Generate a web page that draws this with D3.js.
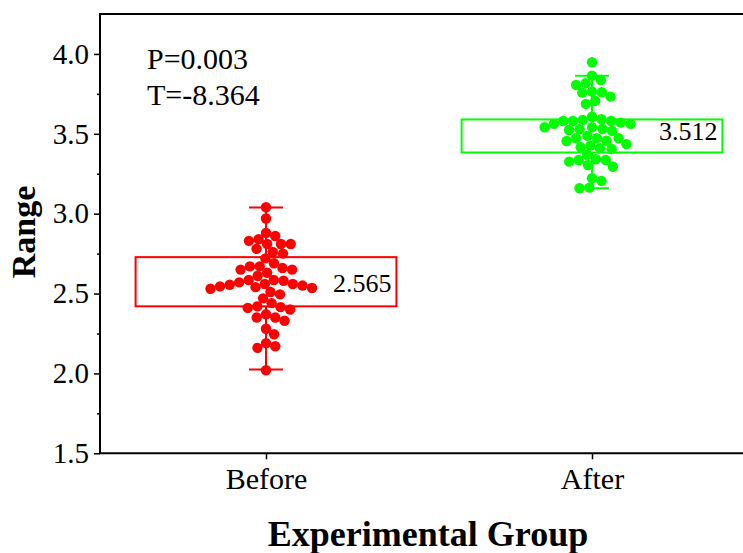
<!DOCTYPE html>
<html lang="en">
<head>
    <meta charset="UTF-8">
    <script src="https://d3js.org/d3.v7.min.js"></script>
    <style>
        body {margin: 0; background-color: #ffffff}
        svg {display: block;}
        text {font-family: "Liberation Serif", "Times New Roman", serif; fill: #000;}
    </style>
</head>
<body>
<svg class="chart"></svg>
<script type="text/javascript">
    // groups and their values
    let groups = ['Before', 'After'];
    let colors = ['#ff0000', '#00ff00'];

    let before_values = [3.04, 2.97, 2.88, 2.86, 2.84, 2.83, 2.81, 2.81, 2.81, 2.78,
        2.76, 2.75, 2.72, 2.69, 2.67, 2.67, 2.66, 2.65, 2.65, 2.63,
        2.61, 2.585, 2.585, 2.58, 2.57, 2.56, 2.56, 2.555, 2.55, 2.545,
        2.54, 2.535, 2.53, 2.51, 2.495, 2.47, 2.44, 2.42, 2.415, 2.41,
        2.40, 2.37, 2.35, 2.35, 2.33, 2.28, 2.245, 2.19, 2.17, 2.16, 2.02];

    let after_values = [3.948, 3.864, 3.837, 3.817, 3.806, 3.764, 3.760, 3.758, 3.733, 3.706,
        3.687, 3.607, 3.591, 3.587, 3.580, 3.580, 3.580, 3.570, 3.562, 3.562,
        3.541, 3.541, 3.530, 3.529, 3.524, 3.518, 3.487, 3.472, 3.472, 3.472,
        3.457, 3.455, 3.435, 3.426, 3.416, 3.410, 3.405, 3.368, 3.341, 3.336,
        3.336, 3.326, 3.305, 3.294, 3.222, 3.205, 3.163, 3.159];

    let means = [2.565, 3.512];
    let box_low = [2.420, 3.383];
    let box_high = [2.728, 3.590];
    let whisker_low = [2.025, 3.159];
    let whisker_high = [3.038, 3.864];

    let y_ticks = [1.5, 2.0, 2.5, 3.0, 3.5, 4.0];
    let y_minor = [1.75, 2.25, 2.75, 3.25, 3.75];
    let stats = ['P=0.003', 'T=-8.364'];

    let chart_width = 743, chart_height = 553;
    let plot_left = 100, plot_top = 14, plot_bottom = 453.3, plot_right = 760;
    let dot_r = 5.2;

    let svg = d3.select('.chart')
        .attr('width', chart_width)
        .attr('height', chart_height);

    let y = d3.scaleLinear()
        .domain([1.5, 4.25])
        .range([plot_bottom, plot_top]);

    let x = d3.scalePoint()
        .domain(groups)
        .range([266, 592]);

    let step = x(groups[1]) - x(groups[0]);
    let box_w = step * 0.8;
    let cap_w = 34;

    // simple greedy beeswarm: keep each dot as close to the centre as possible
    function swarm(values) {
        let d = 9.8;
        let placed = [];
        values.slice().sort((a, b) => b - a).forEach(v => {
            let py = y(v);
            let cands = [0];
            placed.forEach(p => {
                let dy = Math.abs(p.y - py);
                if (dy < d) {
                    let dx = Math.sqrt(d * d - dy * dy);
                    cands.push(p.dx + dx, p.dx - dx);
                }
            });
            cands.sort((a, b) => Math.abs(a) - Math.abs(b) || b - a);
            let best = cands.find(c => placed.every(p => {
                let ddx = p.dx - c, ddy = p.y - py;
                return ddx * ddx + ddy * ddy >= d * d - 0.01;
            }));
            placed.push({v: v, y: py, dx: best});
        });
        return placed;
    }

    // boxes, whiskers, mean labels
    groups.forEach((g, i) => {
        let cx = x(g);
        let gr = svg.append('g');
        gr.append('rect')
            .attr('x', cx - box_w / 2)
            .attr('y', y(box_high[i]))
            .attr('width', box_w)
            .attr('height', y(box_low[i]) - y(box_high[i]))
            .attr('fill', 'none')
            .attr('stroke', colors[i])
            .attr('stroke-width', 2);
        gr.append('line')
            .attr('x1', cx).attr('x2', cx)
            .attr('y1', y(whisker_high[i])).attr('y2', y(box_high[i]))
            .attr('stroke', colors[i]).attr('stroke-width', 2);
        gr.append('line')
            .attr('x1', cx).attr('x2', cx)
            .attr('y1', y(box_low[i])).attr('y2', y(whisker_low[i]))
            .attr('stroke', colors[i]).attr('stroke-width', 2);
        [whisker_high[i], whisker_low[i]].forEach(w => {
            gr.append('line')
                .attr('x1', cx - cap_w / 2).attr('x2', cx + cap_w / 2)
                .attr('y1', y(w)).attr('y2', y(w))
                .attr('stroke', colors[i]).attr('stroke-width', 2);
        });
        gr.append('text')
            .attr('x', cx + box_w / 2 - 5)
            .attr('y', y(means[i]))
            .attr('dy', '0.33em')
            .attr('text-anchor', 'end')
            .style('font-size', '26px')
            .text(means[i].toFixed(3));
    });

    // dots
    [before_values, after_values].forEach((vals, i) => {
        let cx = x(groups[i]);
        svg.append('g').selectAll('circle')
            .data(swarm(vals))
            .enter().append('circle')
            .attr('cx', d => cx + d.dx)
            .attr('cy', d => d.y)
            .attr('r', dot_r)
            .attr('fill', colors[i]);
    });

    // frame
    svg.append('line').attr('x1', plot_left).attr('x2', plot_left).attr('y1', plot_top).attr('y2', plot_bottom)
        .attr('stroke', '#000').attr('stroke-width', 2);
    svg.append('line').attr('x1', plot_left - 1).attr('x2', plot_right).attr('y1', plot_bottom).attr('y2', plot_bottom)
        .attr('stroke', '#000').attr('stroke-width', 2);
    svg.append('line').attr('x1', plot_left - 1).attr('x2', plot_right).attr('y1', plot_top).attr('y2', plot_top)
        .attr('stroke', '#000').attr('stroke-width', 2);

    let y_axis = svg.append('g')
        .attr('transform', 'translate(' + plot_left + ',0)')
        .call(d3.axisLeft(y).tickValues(y_ticks).tickSize(6).tickPadding(5).tickFormat(d3.format('.1f')));
    y_axis.select('.domain').remove();
    y_axis.selectAll('line').attr('stroke-width', 1.5);
    y_axis.selectAll('text').style('font-size', '29px').attr('font-family', null);

    let y_minor_axis = svg.append('g')
        .attr('transform', 'translate(' + plot_left + ',0)')
        .call(d3.axisLeft(y).tickValues(y_minor).tickSize(3).tickFormat(''));
    y_minor_axis.select('.domain').remove();
    y_minor_axis.selectAll('line').attr('stroke-width', 1.5);

    let x_axis = svg.append('g')
        .attr('transform', 'translate(0,' + plot_bottom + ')')
        .call(d3.axisBottom(x).tickSize(6).tickPadding(8));
    x_axis.select('.domain').remove();
    x_axis.selectAll('line').attr('stroke-width', 1.5);
    x_axis.selectAll('text').style('font-size', '30px').attr('font-family', null);

    // statistics
    stats.forEach((s, i) => {
        svg.append('text')
            .attr('x', 147)
            .attr('y', 69 + i * 36)
            .style('font-size', '30px')
            .text(s);
    });

    // axis titles
    svg.append('text')
        .attr('transform', 'translate(35,' + 232 + ') rotate(-90)')
        .attr('text-anchor', 'middle')
        .style('font-size', '34px')
        .style('font-weight', 'bold')
        .text('Range');

    svg.append('text')
        .attr('x', 428)
        .attr('y', 546)
        .attr('text-anchor', 'middle')
        .style('font-size', '36px')
        .style('font-weight', 'bold')
        .text('Experimental Group');
</script>
</body>
</html>
